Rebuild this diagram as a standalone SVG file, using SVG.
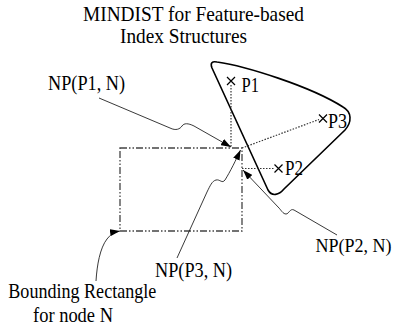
<svg xmlns="http://www.w3.org/2000/svg" width="393" height="330" viewBox="0 0 393 330">
<style>
text{font-family:"Liberation Serif","Times New Roman",serif;font-size:21px;fill:#000}
.lead{fill:none;stroke:#222;stroke-width:0.9}
.dot{fill:none;stroke:#333;stroke-width:1.2;stroke-dasharray:1.5 1.5}
.rect{fill:none;stroke:#444;stroke-width:1.3;stroke-dasharray:7 2 1.5 2 1.5 2}
.cross{stroke:#000;stroke-width:1.2}
.contour{fill:none;stroke:#000;stroke-width:1.6}
</style>
<defs>
<marker id="ah" markerUnits="userSpaceOnUse" markerWidth="11" markerHeight="7" refX="10" refY="3.5" orient="auto">
<path d="M0,0 L10,3.5 L0,7 Z" fill="#000"/>
</marker>
</defs>
<g id="title">
<text x="83" y="21" textLength="221" lengthAdjust="spacingAndGlyphs">MINDIST for Feature-based</text>
<text x="120" y="43" textLength="127" lengthAdjust="spacingAndGlyphs">Index Structures</text>
</g>
<g id="region">
<path class="contour" d="M212,68 C210,63 212,61 217,62 C245,66 310,86 343,107 C352,112 352,122 345,130 L284,189 C279,195 272,197 268,190 Z"/>
</g>
<g id="rectN">
<rect class="rect" x="120" y="148" width="122" height="83"/>
</g>
<g id="P1">
<path class="cross" d="M227,77 L235,85 M235,77 L227,85"/>
<text x="241.5" y="92" textLength="17.5" lengthAdjust="spacingAndGlyphs">P1</text>
</g>
<g id="P3">
<path class="cross" d="M319,114.5 L327,122.5 M327,114.5 L319,122.5"/>
<text x="328" y="128" textLength="19" lengthAdjust="spacingAndGlyphs">P3</text>
</g>
<g id="P2">
<path class="cross" d="M274.5,164.5 L282.5,172.5 M282.5,164.5 L274.5,172.5"/>
<text x="285" y="175" textLength="18" lengthAdjust="spacingAndGlyphs">P2</text>
</g>
<g id="labels">
<text x="48" y="90" textLength="77" lengthAdjust="spacingAndGlyphs">NP(P1, N)</text>
<text x="315.5" y="252" style="font-size:18px">NP(P2, N)</text>
<text x="155" y="276.5" textLength="77" lengthAdjust="spacingAndGlyphs">NP(P3, N)</text>
<text x="8.3" y="298" textLength="148" lengthAdjust="spacingAndGlyphs">Bounding Rectangle</text>
<text x="33" y="322" textLength="80" lengthAdjust="spacingAndGlyphs">for node N</text>
</g>
<g id="connectors">
<path class="dot" d="M231,85 L231,147"/>
<path class="dot" d="M242,148 L319,119.5"/>
<path class="dot" d="M242,168.5 L274.5,168.5"/>
<path class="lead" marker-end="url(#ah)" d="M99,98 L170,128 C176,131 180,129 182,126 C184,123 188,123 194,126 L231,147"/>
<path class="lead" marker-end="url(#ah)" d="M177,258 L207,192 C210,186 212,181 216,180 C220,179 222,184 225,180 C230,172 236,160 240.5,150"/>
<path class="lead" marker-end="url(#ah)" d="M337,235 L294,210 C290,208 289,214 286,214 C283,214 281,210 279,208 L243,170"/>
<path class="lead" marker-end="url(#ah)" d="M96,281 C97,265 100,248 107,239 C110,235 114,232 120,231"/>
</g>
</svg>
